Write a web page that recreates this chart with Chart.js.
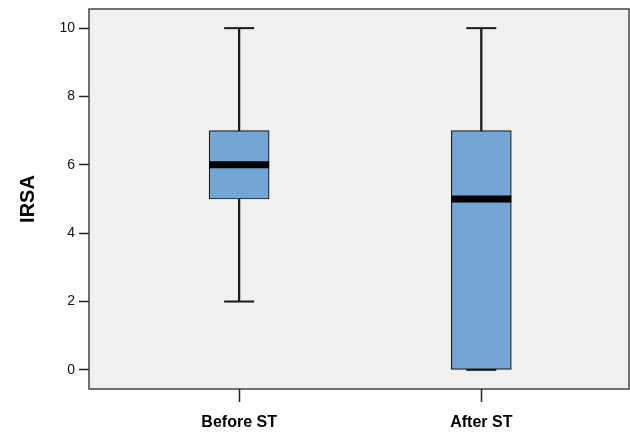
<!DOCTYPE html>
<html>
<head>
<meta charset="utf-8">
<script src="https://cdn.jsdelivr.net/npm/chart.js@4.4.1/dist/chart.umd.min.js"></script>
<style>
  html, body { margin: 0; padding: 0; background: #fff; }
  #wrap { width: 630px; height: 436px; }
</style>
</head>
<body>
<div id="wrap"><canvas id="boxChart" width="630" height="436"></canvas></div>
<script>
// IRSA box plot data
const categories = ['Before ST', 'After ST'];
const minValues = [2, 0];
const q1Values = [5, 0];
const medianValues = [6, 5];
const q3Values = [7, 7];
const maxValues = [10, 10];
const yTicks = [0, 2, 4, 6, 8, 10];

const boxColor = 'rgb(115, 166, 212)';
const inkColor = '#1a1a1a';

// plot background + frame like SPSS output
const plotFrame = {
    id: 'plotFrame',
    beforeDraw(chart) {
        const { ctx, chartArea: a } = chart;
        ctx.save();
        ctx.fillStyle = '#f0f0f0';
        ctx.fillRect(a.left, a.top, a.right - a.left, a.bottom - a.top);
        ctx.strokeStyle = '#444';
        ctx.lineWidth = 1.5;
        ctx.strokeRect(a.left, a.top, a.right - a.left, a.bottom - a.top);
        ctx.restore();
    }
};

const ctx = document.getElementById('boxChart').getContext('2d');
new Chart(ctx, {
    data: {
        datasets: [
            {
                type: 'line',
                label: 'Median',
                data: categories.map((c, i) => ({ x: i, y: medianValues[i] })),
                showLine: false,
                pointStyle: 'line',
                pointRadius: 30,
                pointBorderWidth: 7,
                pointBorderColor: '#000',
                order: 1
            },
            {
                type: 'line',
                label: 'Max',
                data: categories.map((c, i) => ({ x: i, y: maxValues[i] })),
                showLine: false,
                pointStyle: 'line',
                pointRadius: 15,
                pointBorderWidth: 2,
                pointBorderColor: inkColor,
                order: 2
            },
            {
                type: 'line',
                label: 'Min',
                data: categories.map((c, i) => ({ x: i, y: minValues[i] })),
                showLine: false,
                pointStyle: 'line',
                pointRadius: 15,
                pointBorderWidth: 2,
                pointBorderColor: inkColor,
                order: 4
            },
            {
                type: 'bar',
                label: 'Box',
                data: categories.map((c, i) => ({ x: i, y: [q1Values[i], q3Values[i]] })),
                backgroundColor: boxColor,
                borderColor: inkColor,
                borderWidth: 1.2,
                borderSkipped: false,
                barThickness: 60,
                grouped: false,
                order: 3
            },
            {
                type: 'bar',
                label: 'Whisker',
                data: categories.map((c, i) => ({ x: i, y: [minValues[i], maxValues[i]] })),
                backgroundColor: inkColor,
                borderWidth: 0,
                barThickness: 1.6,
                grouped: false,
                order: 5
            }
        ]
    },
    options: {
        responsive: false,
        animation: false,
        layout: { autoPadding: false, padding: { top: 9, right: 1, left: 0, bottom: 0 } },
        plugins: {
            legend: { display: false },
            tooltip: { enabled: false }
        },
        scales: {
            x: {
                type: 'linear',
                offset: false,
                min: -0.62,
                max: 1.61,
                afterBuildTicks: (scale) => {
                    scale.ticks = categories.map((c, i) => ({ value: i }));
                },
                afterFit: (scale) => {
                    scale.height = 47;
                    scale.paddingLeft = 0;
                    scale.paddingRight = 0;
                },
                ticks: {
                    callback: (v) => categories[v],
                    color: '#000',
                    font: { family: '"Liberation Sans Narrow", "Liberation Sans", Arial, sans-serif', size: 16, weight: 'bold' },
                    padding: 11,
                    maxRotation: 0
                },
                grid: {
                    offset: false,
                    drawOnChartArea: false,
                    drawTicks: true,
                    tickLength: 13,
                    tickWidth: 1.5,
                    tickColor: '#222'
                },
                border: { display: false }
            },
            y: {
                type: 'linear',
                min: -0.56,
                max: 10.56,
                afterBuildTicks: (scale) => {
                    scale.ticks = yTicks.map(v => ({ value: v }));
                },
                afterFit: (scale) => {
                    scale.width = 89;
                    scale.paddingTop = 0;
                    scale.paddingBottom = 0;
                },
                title: {
                    display: true,
                    text: 'IRSA',
                    color: '#000',
                    font: { family: '"Liberation Sans", Arial, sans-serif', size: 20, weight: 'bold' },
                    padding: { top: 16, bottom: 0 }
                },
                ticks: {
                    color: '#111',
                    font: { family: '"Liberation Sans", Arial, sans-serif', size: 14 },
                    padding: 4
                },
                grid: {
                    drawOnChartArea: false,
                    drawTicks: true,
                    tickLength: 10,
                    tickWidth: 1.5,
                    tickColor: '#222'
                },
                border: { display: false }
            }
        }
    },
    plugins: [plotFrame]
});
</script>
</body>
</html>
